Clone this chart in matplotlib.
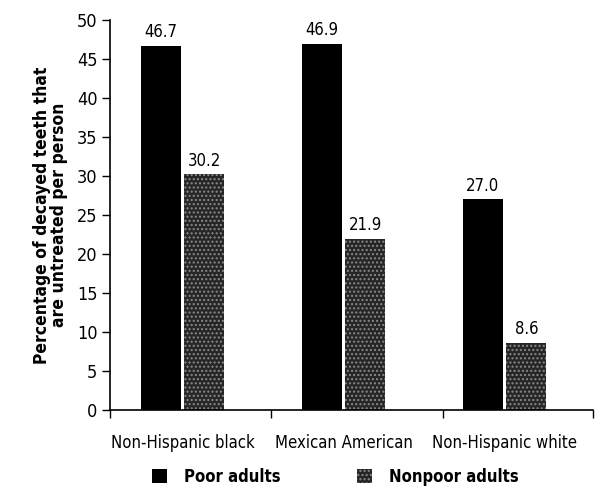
#!/usr/bin/env python3
# -*- coding: utf-8 -*-
"""Untreated decayed teeth by race/ethnicity and poverty status."""
import matplotlib
matplotlib.use("Agg")
import matplotlib.pyplot as plt
import numpy as np

plt.rcParams['font.family'] = ['DejaVu Sans']
plt.rcParams['font.stretch'] = 'condensed'

# ── Dados ─────────────────────────────────────────────────────────────────────
groups = ["Non-Hispanic black", "Mexican American", "Non-Hispanic white"]
poor = [46.7, 46.9, 27.0]
nonpoor = [30.2, 21.9, 8.6]
series_names = ["Poor adults", "Nonpoor adults"]
yticks = [0, 5, 10, 15, 20, 25, 30, 35, 40, 45, 50]

# ── Plot ──────────────────────────────────────────────────────────────────────
fig = plt.figure(figsize=(6.04, 4.94), dpi=100)
ax = fig.add_axes([0.182, 0.17, 0.80, 0.79])

x = np.arange(len(groups))
w = 0.25
b1 = ax.bar(x - w / 2 - 0.01, poor, w, color='black', label=series_names[0])
b2 = ax.bar(x + w / 2 + 0.01, nonpoor, w, color='#262626', edgecolor='#8a8a8a',
            hatch='....', linewidth=0, label=series_names[1])

for bars, vals in ((b1, poor), (b2, nonpoor)):
    for bar, v in zip(bars, vals):
        ax.text(bar.get_x() + bar.get_width() / 2, v + 0.6, f"{v:.1f}",
                ha='center', va='bottom', fontsize=12)

ax.set_xlim(-0.45, 2.55)
ax.set_ylim(0, 50)
ax.set_yticks(yticks)
ax.tick_params(axis='y', labelsize=13, length=6, width=1, pad=3)
ax.set_xticks(x)
ax.set_xticklabels(groups, fontsize=12)
ax.tick_params(axis='x', length=0, pad=17)
ax.set_xticks([-0.45, 0.55, 1.62, 2.55], minor=True)
ax.tick_params(axis='x', which='minor', length=6, width=1, direction='out')

for s in ('top', 'right'):
    ax.spines[s].set_visible(False)
ax.spines['left'].set_linewidth(1.2)
ax.spines['bottom'].set_linewidth(1.2)

ax.set_ylabel("Percentage of decayed teeth that\nare untreated per person",
              fontsize=12.5, fontweight='bold', labelpad=6, linespacing=0.95)

fig.legend(handles=[b1, b2], loc='center', bbox_to_anchor=(0.555, 0.035),
           ncol=2, frameon=False, handlelength=0.9, handleheight=0.9,
           handletextpad=1.0, columnspacing=4.6,
           prop={'weight': 'bold', 'size': 12})

plt.savefig("out.png", dpi=100)
plt.close()
